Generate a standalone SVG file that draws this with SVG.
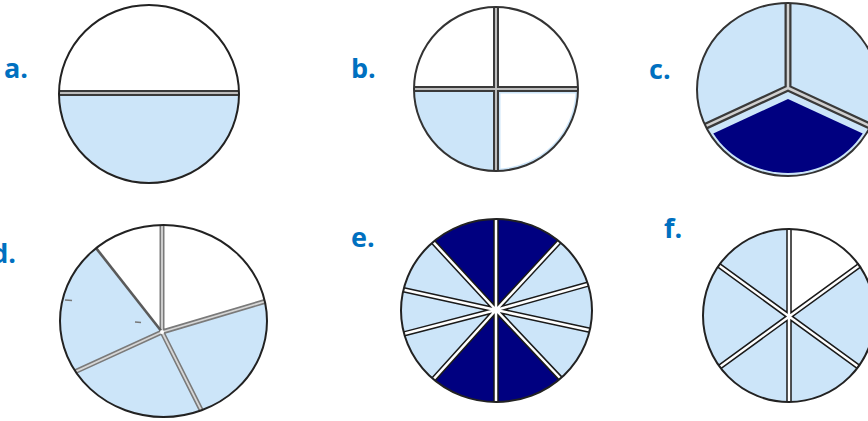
<svg xmlns="http://www.w3.org/2000/svg" width="868" height="421" viewBox="0 0 868 421">
<style>
.lbl{font-family:"Open Sans","Liberation Sans",sans-serif;font-weight:700;font-size:27px;fill:#0070C0}
.lb{fill:#CCE5F9}
.nv{fill:#000080}
.wh{fill:#fff}
.ol{fill:none;stroke:#222;stroke-width:2}
.dvo{stroke:#3a3a3a;stroke-width:6;fill:none}
.dvi{stroke:#bdbdbd;stroke-width:2;fill:none}
.dvo2{stroke:#1a1a1a;stroke-width:5.5;fill:none}
.dvi2{stroke:#fff;stroke-width:2.5;fill:none}
.dgo{stroke:#7a7a7a;stroke-width:5;fill:none}
.dgi{stroke:#d6d6d6;stroke-width:1.8;fill:none}
</style>
<rect width="868" height="421" fill="#fff"/>

<g id="pie-a">
<text class="lbl" x="4" y="78">a.</text>
<ellipse cx="149" cy="94" rx="90" ry="89" class="wh"/>
<path class="lb" d="M59,93 A90,89 0 0,0 239,93 Z"/>
<line class="dvo" x1="59" y1="93" x2="239" y2="93"/>
<line class="dvi" x1="59" y1="93" x2="239" y2="93"/>
<ellipse cx="149" cy="94" rx="90" ry="89" class="ol"/>
</g>

<g id="pie-b">
<text class="lbl" x="351" y="78">b.</text>
<circle cx="496" cy="89" r="82" class="wh"/>
<path class="lb" d="M496,89 L414,89 A82,82 0 0,0 496,171 Z"/>
<path class="lb" d="M496,89 L496,171 A82,82 0 0,0 578,89 Z"/>
<path class="wh" d="M500.5,93.5 L500.5,168.4 A79.5,79.5 0 0,0 575.4,93.5 Z"/>
<path class="dvo" d="M496,7 V171 M414,89 H578"/>
<path class="dvi" d="M496,7 V171 M414,89 H578"/>
<circle cx="496" cy="89" r="82" class="ol" style="stroke:#333"/>
</g>

<g id="pie-c">
<text class="lbl" x="649" y="79">c.</text>
<path class="lb" d="M788,88 L705.6,126.2 A91,86.5 0 0,1 788,3 Z"/>
<path class="lb" d="M788,88 L788,3 A91,86.5 0 0,1 870.4,126.2 Z"/>
<path class="lb" d="M788,88 L870.4,126.2 A91,86.5 0 0,1 705.6,126.2 Z"/>
<path class="nv" d="M788,99 L713.3,133.6 A88,83.5 0 0,0 862.7,133.6 Z"/>
<path class="dvo" style="stroke-width:7" d="M788,3 V88 M705.6,126.2 L788,88 L870.4,126.2"/>
<path class="dvi" style="stroke-width:2.5;stroke:#d0d0d0" d="M788,3 V88 M705.6,126.2 L788,88 L870.4,126.2"/>
<ellipse cx="788" cy="89.5" rx="91" ry="86.5" class="ol" style="stroke:#333"/>
</g>

<g id="pie-d">
<text class="lbl" x="16" y="263" text-anchor="end">d.</text>
<ellipse cx="163.5" cy="321" rx="103.5" ry="96" class="wh"/>
<path class="lb" d="M162,332 L264.8,301.5 A103.5,96 0 0,1 201.3,410.4 A103.5,96 0 0,1 75.5,371.6 A103.5,96 0 0,1 96.1,248.1 Z"/>
<path class="dgo" d="M162,225 V332 M264.8,301.5 L162,332 M201.3,410.4 L162,332 M75.5,371.6 L162,332"/>
<path class="dgi" d="M162,225 V332 M264.8,301.5 L162,332 M201.3,410.4 L162,332 M75.5,371.6 L162,332"/>
<line x1="96.1" y1="248.1" x2="162" y2="332" stroke="#5a5a5a" stroke-width="2.6"/>
<line x1="65" y1="300" x2="72" y2="300.5" stroke="#777" stroke-width="1.5"/>
<line x1="135" y1="322" x2="141" y2="322.5" stroke="#777" stroke-width="1.5"/>
<circle cx="162" cy="332" r="2" fill="#fff"/>
<ellipse cx="163.5" cy="321" rx="103.5" ry="96" class="ol"/>
</g>

<g id="pie-e">
<text class="lbl" x="351" y="247">e.</text>
<ellipse cx="496.5" cy="310.5" rx="95.5" ry="91.5" class="lb"/>
<path class="nv" d="M496,310 L433.1,241.9 A95.5,91.5 0 0,1 559.6,241.3 Z"/>
<path class="nv" d="M496,310 L560.5,378.5 A95.5,91.5 0 0,1 433.4,379.3 Z"/>
<path class="dvo2" d="M496,310 L496,219 M496,310 L559.6,241.3 M496,310 L587.9,284.2 M496,310 L589.8,330.3 M496,310 L560.5,378.5 M496,310 L496,402 M496,310 L433.4,379.3 M496,310 L404.2,333.8 M496,310 L403.5,289.8 M496,310 L433.1,241.9"/>
<path class="dvi2" d="M496,310 L496,219 M496,310 L559.6,241.3 M496,310 L587.9,284.2 M496,310 L589.8,330.3 M496,310 L560.5,378.5 M496,310 L496,402 M496,310 L433.4,379.3 M496,310 L404.2,333.8 M496,310 L403.5,289.8 M496,310 L433.1,241.9"/>
<ellipse cx="496.5" cy="310.5" rx="95.5" ry="91.5" class="ol"/>
</g>

<g id="pie-f">
<text class="lbl" x="664" y="238">f.</text>
<ellipse cx="789" cy="315.5" rx="86" ry="86.5" class="lb"/>
<path class="wh" d="M789,317 L789,229 A86,86.5 0 0,1 860,265 Z"/>
<path class="dvo2" d="M789,229 V402 M718.3,265 L858.3,366.7 M860,265 L720,366.7"/>
<path class="dvi2" d="M789,229 V402 M718.3,265 L858.3,366.7 M860,265 L720,366.7"/>
<ellipse cx="789" cy="315.5" rx="86" ry="86.5" class="ol"/>
</g>
</svg>
